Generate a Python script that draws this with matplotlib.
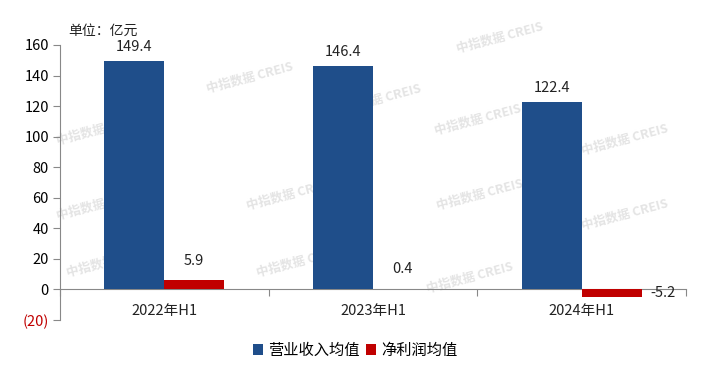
import matplotlib
matplotlib.use("Agg")
import matplotlib.pyplot as plt
import numpy as np

plt.rcParams['font.family'] = ['Noto Sans CJK SC', 'DejaVu Sans']

categories = ["2022年H1", "2023年H1", "2024年H1"]
revenue = [149.4, 146.4, 122.4]
profit = [5.9, 0.4, -5.2]
series_names = ["营业收入均值", "净利润均值"]
yticks = [-20, 0, 20, 40, 60, 80, 100, 120, 140, 160]
ytick_labels = ["(20)", "0", "20", "40", "60", "80", "100", "120", "140", "160"]

blue = "#1F4E8A"
red = "#C00000"

fig = plt.figure(figsize=(7.10, 3.71), dpi=100)

# watermarks (behind everything)
wm_pos = [(100, 130), (100, 205), (110, 262), (250, 78), (378, 100),
          (500, 38), (478, 120), (625, 140), (290, 195), (480, 195),
          (625, 215), (300, 262), (470, 278)]
for px, py in wm_pos:
    fig.text(px/710, 1-py/371, "中指数据 CREIS", ha='center', va='center', rotation=15,
             fontsize=9, color='#E4E4E4', fontweight='bold', zorder=-5)

ax = fig.add_axes([60/710, 1-320/371, 626/710, 275/371])
ax.patch.set_alpha(0)

x = np.arange(len(categories))
w = 0.287
b1 = ax.bar(x - w/2, revenue, w, color=blue, label=series_names[0], zorder=3)
b2 = ax.bar(x + w/2, profit, w, color=red, label=series_names[1], zorder=3)

ax.set_xlim(-0.5, 2.5)
ax.set_ylim(-20, 160)
ax.set_yticks(yticks)
ax.set_yticklabels(ytick_labels, fontsize=10.5)
ax.get_yticklabels()[0].set_color(red)
ax.tick_params(axis='y', direction='out', length=5, color='#888888', pad=3)

ax.spines['top'].set_visible(False)
ax.spines['right'].set_visible(False)
ax.spines['left'].set_color('#888888')
ax.spines['bottom'].set_position(('data', 0))
ax.spines['bottom'].set_color('#888888')
ax.set_xticks([-0.5, 0.5, 1.5, 2.5])
ax.set_xticklabels([])
ax.tick_params(axis='x', direction='out', length=5, color='#888888')

for i, c in enumerate(categories):
    ax.text(i, -14, c, ha='center', va='center', fontsize=10.5, color='#222222')

for i, v in enumerate(revenue):
    ax.annotate(f"{v:.1f}", (x[i] - w/2, v), xytext=(0, 5), textcoords='offset points',
                ha='center', va='bottom', fontsize=10.5, color='#222222')
for i, v in enumerate(profit):
    if v >= 0:
        ax.annotate(f"{v:.1f}", (x[i] + w/2, v), xytext=(0, 9), textcoords='offset points',
                    ha='center', va='bottom', fontsize=10.5, color='#222222')
    else:
        ax.annotate(f"{v:.1f}", (x[i] + w, v/2), xytext=(6, 0), textcoords='offset points',
                    ha='left', va='center', fontsize=10.5, color='#222222')

fig.text(68/710, 1-31/371, "单位：亿元", ha='left', va='center', fontsize=10, color='#222222')

leg = fig.legend(handles=[b1, b2], labels=series_names, loc='center',
                 bbox_to_anchor=(0.5, 1-350/371), ncol=2, frameon=False,
                 fontsize=11, handlelength=0.7, handleheight=0.7,
                 handletextpad=0.3, columnspacing=0.4)

fig.savefig("out.png", dpi=100)
